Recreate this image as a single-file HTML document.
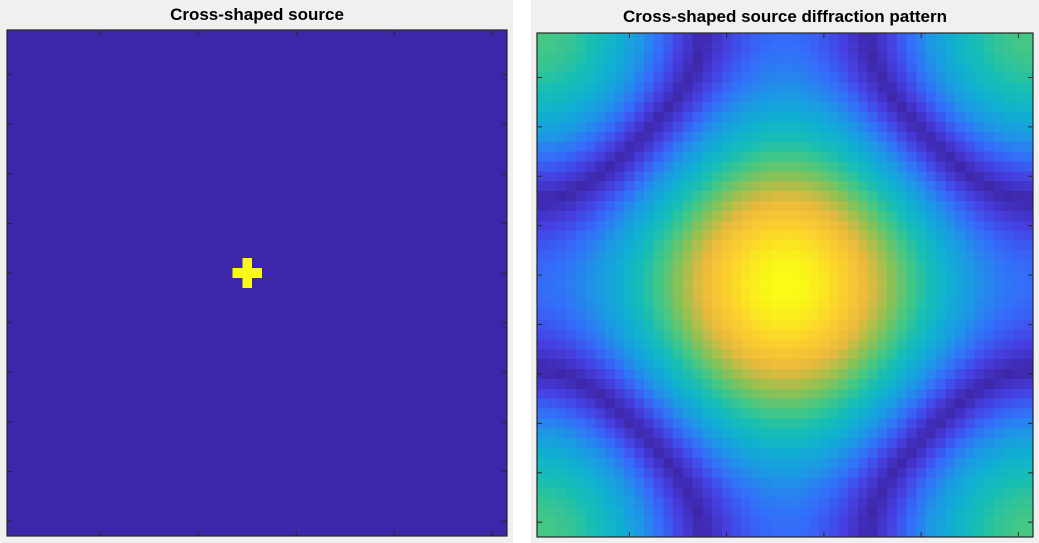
<!DOCTYPE html>
<html><head><meta charset="utf-8"><style>
html,body{margin:0;padding:0;background:#fff;width:1039px;height:543px;overflow:hidden}
svg{display:block}
text{font-family:"Liberation Sans",Arial,sans-serif;font-weight:bold;font-size:17px;fill:#000}
</style></head><body>
<svg id="fig" width="1039" height="543">
<rect x="0" y="0" width="513" height="543" fill="#f0f0f0"/>
<rect x="531" y="0" width="508" height="543" fill="#f0f0f0"/>
<text x="257" y="20" text-anchor="middle">Cross-shaped source</text>
<text x="785" y="22" text-anchor="middle">Cross-shaped source diffraction pattern</text>
<g id="left"></g>
<g id="right"></g>
</svg>
<script>
const gridSize = 51;
const crossCells = [[23,24],[24,23],[24,24],[24,25],[25,24]]; // [row, col]
const crossValues = [1,1,1,1,1];
const xTicks = [10,20,30,40,50];
const yTicks = [5,10,15,20,25,30,35,40,45,50];

const parula = [[62,38,168],[70,63,225],[52,109,250],[30,150,230],[16,175,210],[23,190,180],[70,200,130],[150,192,80],[235,185,60],[252,208,45],[249,251,21]];
function cmap(t){t=Math.max(0,Math.min(1,t));const f=t*10,i=Math.min(9,Math.floor(f)),r=f-i;
 const a=parula[i],b=parula[i+1];return `rgb(${a.map((v,j)=>Math.round(v+(b[j]-v)*r)).join(',')})`;}

const NS="http://www.w3.org/2000/svg";
function mk(tag,attrs,parent){const e=document.createElementNS(NS,tag);for(const k in attrs)e.setAttribute(k,attrs[k]);parent.appendChild(e);return e;}

const src=[];for(let r=0;r<gridSize;r++){src.push(new Array(gridSize).fill(0));}
crossCells.forEach((c,i)=>{src[c[0]][c[1]]=crossValues[i];});

const diff=[];let mx=0;const c0=Math.floor(gridSize/2);
for(let k=0;k<gridSize;k++){const row=[];for(let l=0;l<gridSize;l++){
 let re=0,im=0;const u=2*Math.PI*(k-c0)/gridSize,v=2*Math.PI*(l-c0)/gridSize;
 crossCells.forEach((c,i)=>{const ph=u*c[0]+v*c[1];re+=crossValues[i]*Math.cos(ph);im-=crossValues[i]*Math.sin(ph);});
 const m=Math.hypot(re,im);row.push(m);if(m>mx)mx=m;}diff.push(row);}

function drawAxes(g,data,maxV,x0,y0,w,h,name){
 const cw=w/gridSize,ch=h/gridSize;
 const xs=i=>x0+i*cw, ys=i=>y0+i*ch;
 for(let r=0;r<gridSize;r++)for(let c=0;c<gridSize;c++){
  const e=mk('rect',{x:xs(c),y:ys(r),width:cw+0.6,height:ch+0.6,fill:cmap(data[r][c]/maxV),'shape-rendering':'crispEdges'},g);
  
  
 }
 const b=mk('rect',{x:x0,y:y0,width:w,height:h,fill:'none',stroke:'#262626','stroke-width':1.2},g);
 
 
 xTicks.forEach(t=>{const x=xs(t-0.5);
  [[y0+h,y0+h-5],[y0,y0+5]].forEach(p=>{const e=mk('line',{x1:x,x2:x,y1:p[0],y2:p[1],stroke:'#262626','stroke-width':1},g);
   
   });});
 yTicks.forEach(t=>{const y=ys(t-0.5);
  [[x0,x0+5],[x0+w,x0+w-5]].forEach(p=>{const e=mk('line',{x1:p[0],x2:p[1],y1:y,y2:y,stroke:'#262626','stroke-width':1},g);
   
   });});
}
drawAxes(document.getElementById('left'),src,1,7,30,500,506,'source');
drawAxes(document.getElementById('right'),diff,mx,537,33,496,504,'diffraction');
</script>
</body></html>
